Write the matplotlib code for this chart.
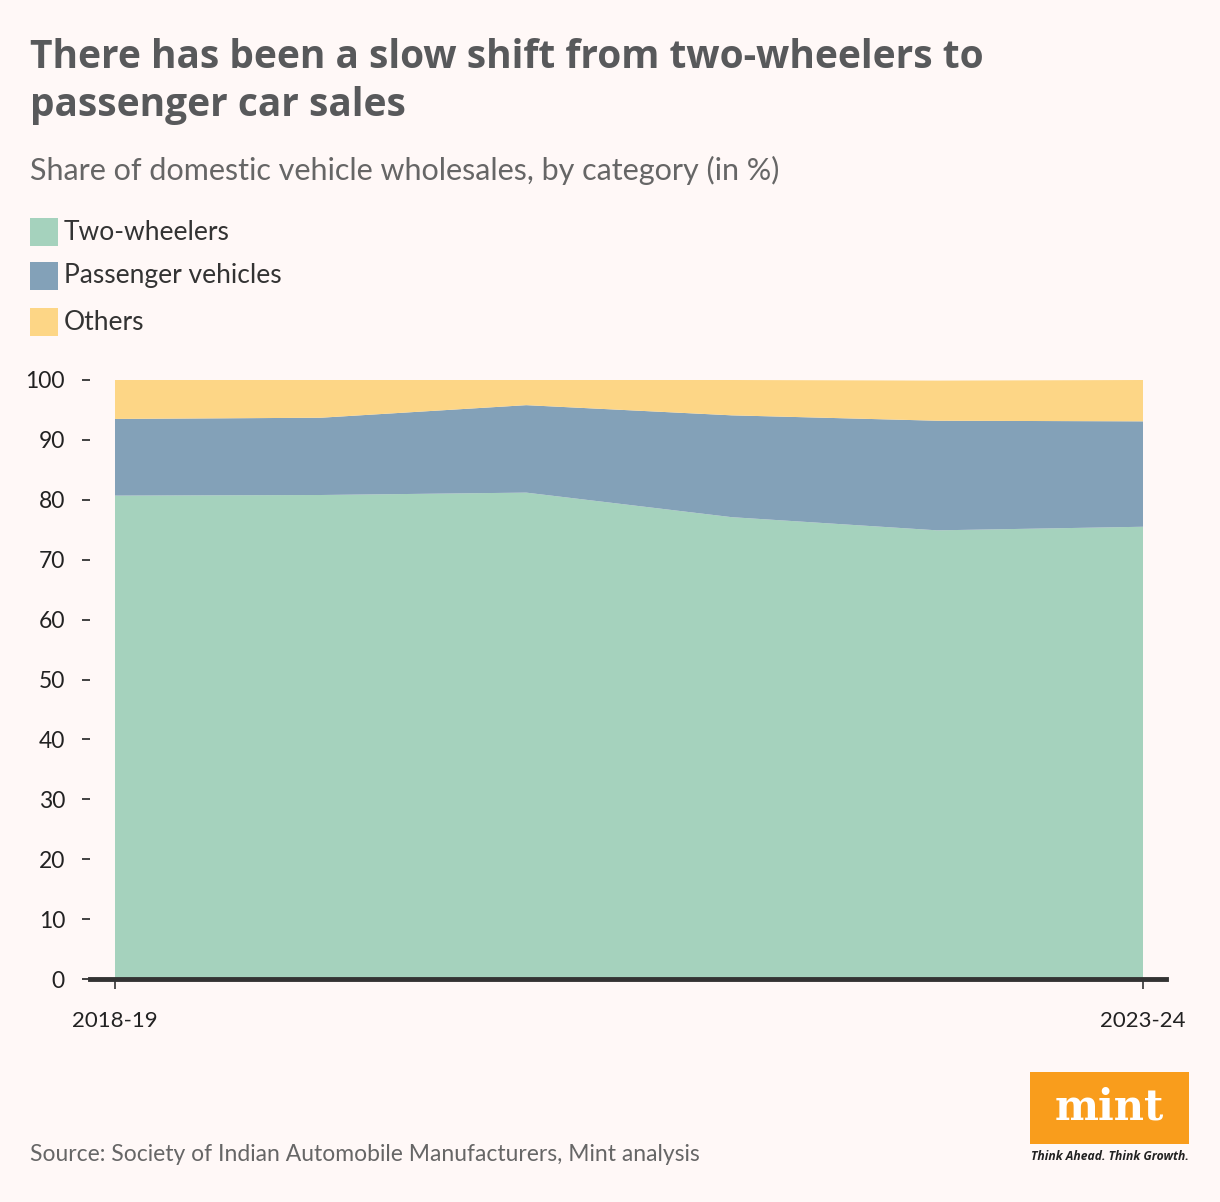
import matplotlib
matplotlib.use("Agg")
import matplotlib.pyplot as plt
from matplotlib.patches import Rectangle
import numpy as np

years = ["2018-19", "2019-20", "2020-21", "2021-22", "2022-23", "2023-24"]
two_wheelers = [80.7, 80.8, 81.2, 77.1, 74.9, 75.5]
passenger_vehicles = [12.8, 12.9, 14.6, 17.0, 18.3, 17.6]
others = [6.5, 6.3, 4.2, 5.9, 6.7, 6.9]
series_names = ["Two-wheelers", "Passenger vehicles", "Others"]
colors = ["#A5D2BD", "#83A1B8", "#FDD686"]
xtick_labels = ["2018-19", "2023-24"]

W, H = 1220, 1202
BG = "#FFF8F7"
fig = plt.figure(figsize=(W / 100, H / 100), dpi=100, facecolor=BG)

def fx(px):
    return px / W

def fy(py):
    return 1 - py / H

FONT = "Lato"

# axes: left spine at x=90, right end 1166, bottom at y=979, 100 at y=380
ax_left, ax_right = 90, 1166
ax_bottom, ax_top = 979, 377
ax = fig.add_axes([fx(ax_left), fy(ax_bottom), (ax_right - ax_left) / W, (ax_bottom - ax_top) / H])
ax.set_facecolor(BG)

x = np.arange(len(years))
ax.stackplot(x, two_wheelers, passenger_vehicles, others, colors=colors, linewidth=0)

unit = (1143 - 115) / 5
ax.set_xlim(-(115 - ax_left) / unit, 5 + (ax_right - 1143) / unit)
ax.set_ylim(0, 100 * (ax_bottom - ax_top) / (979 - 380))

for s in ["top", "right", "left"]:
    ax.spines[s].set_visible(False)
ax.spines["bottom"].set_color("#333333")
ax.spines["bottom"].set_linewidth(3.5)
ax.spines["bottom"].set_zorder(5)

ax.set_yticks(np.arange(0, 101, 10))
ax.set_yticklabels([str(v) for v in range(0, 101, 10)], fontsize=16.5, color="#222222", family=FONT)
ax.tick_params(axis="y", length=6, width=1.3, color="#333333", pad=12, direction="out")
ax.set_xticks([0, 5])
ax.set_xticklabels(xtick_labels, fontsize=16, color="#222222", family=FONT)
ax.tick_params(axis="x", length=7, width=1.2, color="#333333", pad=16, direction="out")

# Title (two lines)
title_lines = ["There has been a slow shift from two-wheelers to", "passenger car sales"]
for line, base in zip(title_lines, [68, 116]):
    fig.text(fx(30), fy(base), line, fontsize=28, fontweight="bold", color="#58595B",
             family="Open Sans", ha="left", va="baseline")
# Subtitle
fig.text(fx(30), fy(180), "Share of domestic vehicle wholesales, by category (in %)",
         fontsize=22, color="#666666", family=FONT, ha="left", va="baseline")

# Legend
leg_y = [218, 262, 308]
for name, c, yy in zip(series_names, colors, leg_y):
    fig.patches.append(Rectangle((fx(30), fy(yy + 28)), 28 / W, 28 / H, transform=fig.transFigure,
                                 facecolor=c, edgecolor="none"))
    fig.text(fx(64), fy(yy + 14), name, fontsize=19, color="#333333", family=FONT,
             ha="left", va="center")

# Source
fig.text(fx(30), fy(1161), "Source: Society of Indian Automobile Manufacturers, Mint analysis",
         fontsize=16.5, color="#666666", family=FONT, ha="left", va="baseline")

# Mint logo
fig.patches.append(Rectangle((fx(1030), fy(1144)), 159 / W, 72 / H, transform=fig.transFigure,
                             facecolor="#F99D1C", edgecolor="none"))
fig.text(fx(1109), fy(1108), "mint", fontsize=30, fontweight="bold", color="white",
         family="DejaVu Serif", ha="center", va="center")
fig.text(fx(1110), fy(1157), "Think Ahead. Think Growth.", fontsize=8.7, fontweight="bold",
         style="italic", color="#222222", family="Open Sans", ha="center", va="center")

fig.savefig("out.png", dpi=100, facecolor=BG)
